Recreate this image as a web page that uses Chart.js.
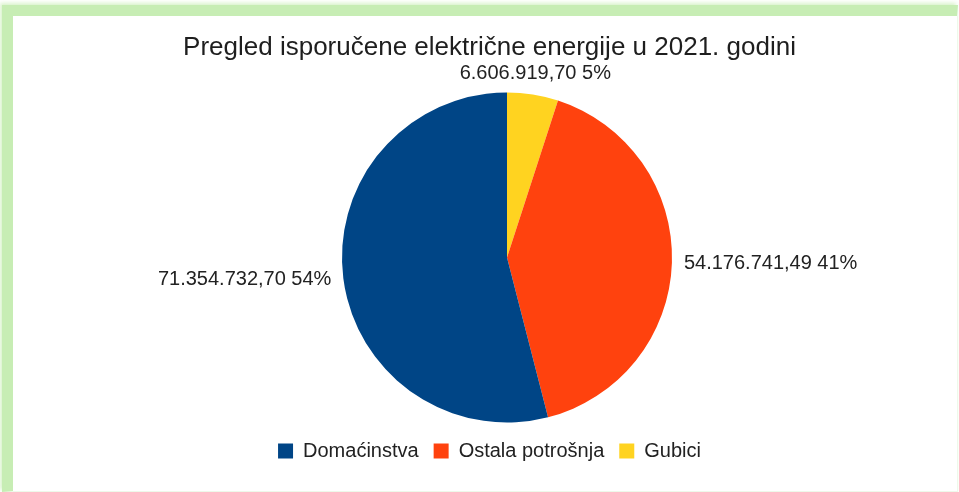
<!DOCTYPE html>
<html>
<head>
<meta charset="utf-8">
<script src="https://cdn.jsdelivr.net/npm/chart.js@4.4.1/dist/chart.umd.min.js"></script>
<style>
  html, body { margin: 0; padding: 0; background: #fff; }
  #wrap { position: relative; width: 959px; height: 492px; overflow: hidden; }
  #frame {
    position: absolute; left: 2px; top: 5px; width: 944px; height: 475px;
    border-left: 11px solid #c7edb4; border-top: 11px solid #c7edb4;
    border-right: 1px solid #eef9ea; border-bottom: 1px solid #eef9ea;
    box-shadow: -2px -2px 4px rgba(199, 237, 180, 0.7);
  }
  canvas { position: absolute; left: 0; top: 0; }
</style>
</head>
<body>
<div id="wrap">
  <div id="frame"></div>
  <canvas id="myChart" width="959" height="492"></canvas>
</div>
<script>
const chartTitle = 'Pregled isporučene električne energije u 2021. godini';
const categories = ['Domaćinstva', 'Ostala potrošnja', 'Gubici'];
const values = [71354732.70, 54176741.49, 6606919.70];
const colors = ['#004586', '#ff420e', '#ffd320'];

const FONT = '"Liberation Sans", Arial, sans-serif';
const pieCx = 507, pieCy = 257.5, pieR = 165;

// LibreOffice draws the slices counter-clockwise, so feed them reversed
const drawLabels = categories.slice().reverse();
const drawValues = values.slice().reverse();
const drawColors = colors.slice().reverse();

function fmt(v) {
    const parts = v.toFixed(2).split('.');
    return parts[0].replace(/\B(?=(\d{3})+(?!\d))/g, '.') + ',' + parts[1];
}

// put the pie where the original has it
const placePie = {
    id: 'placePie',
    afterLayout(chart) {
        const a = chart.chartArea;
        const half = pieR + 10;
        a.left = pieCx - half; a.right = pieCx + half;
        a.top = pieCy - half; a.bottom = pieCy + half;
        a.width = half * 2; a.height = half * 2;
    }
};

// value + percent labels outside each slice
const sliceLabels = {
    id: 'sliceLabels',
    afterDatasetsDraw(chart) {
        const ctx = chart.ctx;
        const meta = chart.getDatasetMeta(0);
        const data = chart.data.datasets[0].data;
        const total = data.reduce((a, b) => a + b, 0);
        ctx.save();
        ctx.font = '20px ' + FONT;
        ctx.fillStyle = '#222';
        meta.data.forEach((arc, i) => {
            const p = arc.getProps(['x', 'y', 'startAngle', 'endAngle', 'outerRadius'], true);
            const mid = (p.startAngle + p.endAngle) / 2;
            const c = Math.cos(mid), s = Math.sin(mid);
            let gap = 12;
            if (c > 0.35) {
                ctx.textAlign = 'left'; ctx.textBaseline = 'middle';
            } else if (c < -0.35) {
                ctx.textAlign = 'right'; ctx.textBaseline = 'middle';
            } else if (s < 0) {
                ctx.textAlign = 'center'; ctx.textBaseline = 'alphabetic'; gap = 16;
            } else {
                ctx.textAlign = 'center'; ctx.textBaseline = 'top';
            }
            const r = p.outerRadius + gap;
            const text = fmt(data[i]) + ' ' + Math.round(data[i] / total * 100) + '%';
            ctx.fillText(text, p.x + c * r, p.y + s * r);
        });
        ctx.restore();
    }
};

const ctx = document.getElementById('myChart');
const myChart = new Chart(ctx, {
    type: 'pie',
    data: {
        labels: drawLabels,
        datasets: [{
            data: drawValues,
            backgroundColor: drawColors,
            borderWidth: 0,
            radius: pieR,
            clip: false
        }]
    },
    options: {
        responsive: false,
        animation: false,
        layout: { padding: { left: 20, right: 0, top: 0, bottom: 21 } },
        plugins: {
            title: {
                display: true,
                text: chartTitle,
                color: '#1e1e1e',
                font: { family: FONT, size: 26, weight: 'normal' },
                padding: { top: 32, bottom: 0 }
            },
            legend: {
                position: 'bottom',
                reverse: true,
                labels: {
                    color: '#222',
                    font: { family: FONT, size: 20 },
                    boxWidth: 15,
                    boxHeight: 15,
                    padding: 15
                }
            },
            tooltip: { enabled: false }
        }
    },
    plugins: [placePie, sliceLabels]
});
</script>
</body>
</html>
